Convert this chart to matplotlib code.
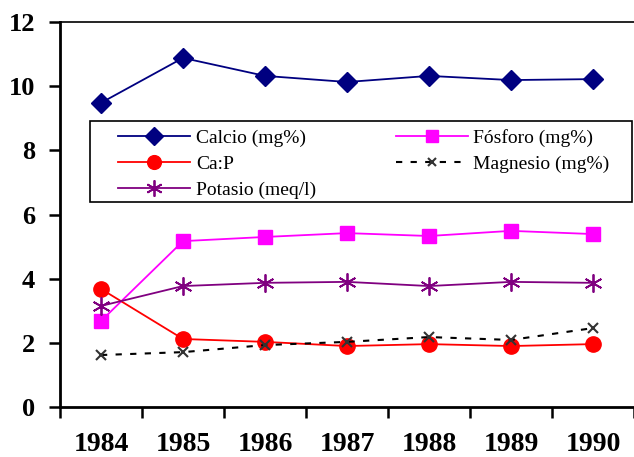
import matplotlib
matplotlib.use("Agg")
import matplotlib.pyplot as plt
from matplotlib.patches import Rectangle

years = ["1984", "1985", "1986", "1987", "1988", "1989", "1990"]
calcio = [9.48, 10.88, 10.32, 10.13, 10.32, 10.19, 10.22]
fosforo = [2.68, 5.17, 5.30, 5.42, 5.33, 5.49, 5.39]
ca_p = [3.68, 2.12, 2.03, 1.90, 1.96, 1.90, 1.96]
magnesio = [1.62, 1.71, 1.93, 2.03, 2.18, 2.09, 2.46]
potasio = [3.15, 3.77, 3.87, 3.90, 3.77, 3.90, 3.87]
y_ticks = [0, 2, 4, 6, 8, 10, 12]

plt.rcParams['font.family'] = ['Liberation Serif', 'DejaVu Serif']

fig = plt.figure(figsize=(6.34, 4.57), dpi=100)
ax = fig.add_axes([60/634, 50/457, 574/634, 385/457])

x = list(range(len(years)))
h1, = ax.plot(x, calcio, color='#000080', marker='D', ms=10, lw=1.3, label='Calcio (mg%)')
h2, = ax.plot(x, fosforo, color='#FF00FF', marker='s', ms=10, lw=1.3, label='Fósforo (mg%)')
h3, = ax.plot(x, ca_p, color='#FF0000', marker='o', ms=11, lw=1.3, label='Ca:P')
h4, = ax.plot(x, magnesio, color='black', ls=(0, (3, 4)), lw=1.5, marker='x', ms=7,
              mec='#333333', mew=1.5, label='Magnesio (mg%)')
h5, = ax.plot(x, potasio, color='#800080', marker=(6, 2, 0), ms=13, mew=1.3, lw=1.3,
              label='Potasio (meq/l)')

ax.set_xlim(-0.5, 6.5)
ax.set_ylim(0, 12)
ax.set_yticks(y_ticks)
ax.set_yticklabels([str(v) for v in y_ticks], fontsize=19, fontweight='bold')
ax.set_xticks([i - 0.5 for i in range(len(years) + 1)])
ax.set_xticklabels([])
ax.set_xticks(x, minor=True)
ax.set_xticklabels(years, minor=True, fontsize=20, fontweight='bold')
ax.tick_params(axis='x', which='major', direction='out', length=8, width=1.8)
ax.tick_params(axis='x', which='minor', length=0, pad=18)
ax.tick_params(axis='y', direction='out', length=8, width=1.8, pad=10)

for s in ['left', 'bottom']:
    ax.spines[s].set_linewidth(2)
ax.spines['top'].set_linewidth(1.2)
ax.spines['right'].set_visible(False)

# legend box
fig.patches.append(Rectangle((90/634, (457-202)/457), (632-90)/634, 81/457,
                             transform=fig.transFigure, fill=True, facecolor='white',
                             edgecolor='black', lw=1.2, zorder=5))
leg = fig.legend([h1, h3, h5, h2, h4],
                 ['Calcio (mg%)', 'Ca:P', 'Potasio (meq/l)', 'Fósforo (mg%)', 'Magnesio (mg%)'],
                 ncol=2, loc='upper left', bbox_to_anchor=(118/634, (457-129)/457),
                 frameon=False, fontsize=14, handlelength=3.7, handletextpad=0.3,
                 labelspacing=0.42, columnspacing=4.1, borderpad=0, borderaxespad=0,
                 markerscale=0.9)
leg.set_zorder(6)

fig.savefig('out.png', dpi=100)
